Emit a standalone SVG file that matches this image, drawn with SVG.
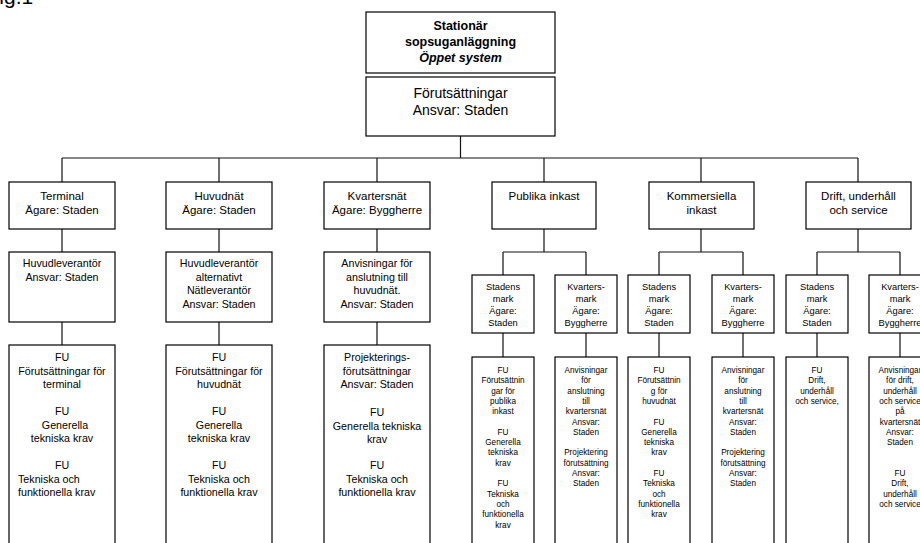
<svg xmlns="http://www.w3.org/2000/svg" width="920" height="543" viewBox="0 0 920 543">
<style>
.box{fill:#fff;stroke:#000;stroke-width:1.2}
.conn{fill:none;stroke:#111;stroke-width:1.2}
text{font-family:"Liberation Sans",Arial,sans-serif;fill:#000;text-anchor:middle}
.tb{font-size:12.5px;font-weight:bold}
.t14{font-size:14px}
.t11{font-size:11.5px}
.t10{font-size:10.7px}
.t9{font-size:9.3px}
.t8{font-size:8.2px}
.fig{font-size:21px;text-anchor:start}
</style>
<rect width="920" height="543" fill="#fff"/>
<text class="fig" x="-13.5" y="4">Fig.1</text>

<g id="connectors" class="conn">
<path d="M460.5 136V158M62 158H858M62 158V182M219 158V182M377 158V182M544 158V182M701 158V182M858 158V182"/>
<path d="M62 229V252M219 229V252M377 229V252M62 322V345M219 322V345M377 322V345"/>
<path d="M544 229V252M503 252H586M503 252V275M586 252V275"/>
<path d="M701 229V252M659 252H743M659 252V275M743 252V275"/>
<path d="M858 229V252M817 252H900M817 252V275M900 252V275"/>
<path d="M503 333V357M586 333V357M659 333V357M743 333V357M817 333V357M900 333V357"/>
</g>

<g id="n-root">
<rect class="box" x="366" y="12" width="189" height="61"/>
<text class="tb"><tspan x="460.5" y="30">Stationär</tspan><tspan x="460.5" y="46">sopsuganläggning</tspan><tspan x="460.5" y="62" font-style="italic">Öppet system</tspan></text>
</g>
<g id="n-forutsattningar">
<rect class="box" x="366" y="77" width="189" height="59"/>
<text class="t14"><tspan x="460.5" y="98">Förutsättningar</tspan><tspan x="460.5" y="115">Ansvar: Staden</tspan></text>
</g>

<g id="n-terminal">
<rect class="box" x="9" y="182" width="106" height="47"/>
<text class="t11"><tspan x="62" y="200">Terminal</tspan><tspan x="62" y="213.5">Ägare: Staden</tspan></text>
</g>
<g id="n-huvudnat">
<rect class="box" x="166" y="182" width="106" height="47"/>
<text class="t11"><tspan x="219" y="200">Huvudnät</tspan><tspan x="219" y="213.5">Ägare: Staden</tspan></text>
</g>
<g id="n-kvartersnat">
<rect class="box" x="324" y="182" width="106" height="47"/>
<text class="t11"><tspan x="377" y="200">Kvartersnät</tspan><tspan x="377" y="213.5">Ägare: Byggherre</tspan></text>
</g>
<g id="n-publika">
<rect class="box" x="492" y="182" width="104" height="47"/>
<text class="t11"><tspan x="544" y="200">Publika inkast</tspan></text>
</g>
<g id="n-kommersiella">
<rect class="box" x="649" y="182" width="105" height="47"/>
<text class="t11"><tspan x="701.5" y="200">Kommersiella</tspan><tspan x="701.5" y="214">inkast</tspan></text>
</g>
<g id="n-drift">
<rect class="box" x="806" y="182" width="105" height="47"/>
<text class="t11"><tspan x="858.5" y="200">Drift, underhåll</tspan><tspan x="858.5" y="214">och service</tspan></text>
</g>

<g id="n-terminal-leverantor">
<rect class="box" x="9" y="252" width="106" height="70"/>
<text class="t10"><tspan x="62" y="267">Huvudleverantör</tspan><tspan x="62" y="280.5">Ansvar: Staden</tspan></text>
</g>
<g id="n-huvudnat-leverantor">
<rect class="box" x="166" y="252" width="106" height="70"/>
<text class="t10"><tspan x="219" y="267">Huvudleverantör</tspan><tspan x="219" y="280.5">alternativt</tspan><tspan x="219" y="294">Nätleverantör</tspan><tspan x="219" y="307.5">Ansvar: Staden</tspan></text>
</g>
<g id="n-kvartersnat-anvisningar">
<rect class="box" x="324" y="252" width="106" height="70"/>
<text class="t10"><tspan x="377" y="267">Anvisningar för</tspan><tspan x="377" y="280.5">anslutning till</tspan><tspan x="377" y="294">huvudnät.</tspan><tspan x="377" y="307.5">Ansvar: Staden</tspan></text>
</g>

<g id="n-terminal-fu">
<rect class="box" x="9" y="345" width="106" height="220"/>
<text class="t10"><tspan x="62" y="361">FU</tspan><tspan x="62" y="374.5">Förutsättningar för</tspan><tspan x="62" y="388">terminal</tspan><tspan x="62" y="415">FU</tspan><tspan x="65" y="428.5">Generella</tspan><tspan x="62" y="442">tekniska krav</tspan><tspan x="62" y="469">FU</tspan><tspan x="18" y="482.5" text-anchor="start">Tekniska och</tspan><tspan x="18" y="496" text-anchor="start">funktionella krav</tspan></text>
</g>
<g id="n-huvudnat-fu">
<rect class="box" x="166" y="345" width="106" height="220"/>
<text class="t10"><tspan x="219" y="361">FU</tspan><tspan x="219" y="374.5">Förutsättningar för</tspan><tspan x="219" y="388">huvudnät</tspan><tspan x="219" y="415">FU</tspan><tspan x="219" y="428.5">Generella</tspan><tspan x="219" y="442">tekniska krav</tspan><tspan x="219" y="469">FU</tspan><tspan x="219" y="482.5">Tekniska och</tspan><tspan x="219" y="496">funktionella krav</tspan></text>
</g>
<g id="n-kvartersnat-fu">
<rect class="box" x="324" y="345" width="106" height="220"/>
<text class="t10"><tspan x="377" y="361">Projekterings-</tspan><tspan x="377" y="374.5">förutsättningar</tspan><tspan x="377" y="388">Ansvar: Staden</tspan><tspan x="377" y="416">FU</tspan><tspan x="377" y="429.5">Generella tekniska</tspan><tspan x="377" y="443">krav</tspan><tspan x="377" y="469">FU</tspan><tspan x="377" y="482.5">Tekniska och</tspan><tspan x="377" y="496">funktionella krav</tspan></text>
</g>

<g id="n-publika-stadens">
<rect class="box" x="472" y="275" width="62" height="58"/>
<text class="t9"><tspan x="503" y="289.5">Stadens</tspan><tspan x="503" y="301.5">mark</tspan><tspan x="503" y="313.5">Ägare:</tspan><tspan x="503" y="325.5">Staden</tspan></text>
</g>
<g id="n-publika-kvarters">
<rect class="box" x="555" y="275" width="62" height="58"/>
<text class="t9"><tspan x="586" y="289.5">Kvarters-</tspan><tspan x="586" y="301.5">mark</tspan><tspan x="586" y="313.5">Ägare:</tspan><tspan x="586" y="325.5">Byggherre</tspan></text>
</g>
<g id="n-kommersiella-stadens">
<rect class="box" x="628" y="275" width="62" height="58"/>
<text class="t9"><tspan x="659" y="289.5">Stadens</tspan><tspan x="659" y="301.5">mark</tspan><tspan x="659" y="313.5">Ägare:</tspan><tspan x="659" y="325.5">Staden</tspan></text>
</g>
<g id="n-kommersiella-kvarters">
<rect class="box" x="712" y="275" width="62" height="58"/>
<text class="t9"><tspan x="743" y="289.5">Kvarters-</tspan><tspan x="743" y="301.5">mark</tspan><tspan x="743" y="313.5">Ägare:</tspan><tspan x="743" y="325.5">Byggherre</tspan></text>
</g>
<g id="n-drift-stadens">
<rect class="box" x="786" y="275" width="62" height="58"/>
<text class="t9"><tspan x="817" y="289.5">Stadens</tspan><tspan x="817" y="301.5">mark</tspan><tspan x="817" y="313.5">Ägare:</tspan><tspan x="817" y="325.5">Staden</tspan></text>
</g>
<g id="n-drift-kvarters">
<rect class="box" x="869" y="275" width="62" height="58"/>
<text class="t9"><tspan x="900" y="289.5">Kvarters-</tspan><tspan x="900" y="301.5">mark</tspan><tspan x="900" y="313.5">Ägare:</tspan><tspan x="900" y="325.5">Byggherre</tspan></text>
</g>

<g id="n-publika-stadens-fu">
<rect class="box" x="472" y="357" width="62" height="210"/>
<text class="t8"><tspan x="503" y="373">FU</tspan><tspan x="503" y="383.3">Förutsättnin</tspan><tspan x="503" y="393.6">gar för</tspan><tspan x="503" y="403.9">publika</tspan><tspan x="503" y="414.2">inkast</tspan><tspan x="503" y="434.8">FU</tspan><tspan x="503" y="445.1">Generella</tspan><tspan x="503" y="455.4">tekniska</tspan><tspan x="503" y="465.7">krav</tspan><tspan x="503" y="486.3">FU</tspan><tspan x="503" y="496.6">Tekniska</tspan><tspan x="503" y="506.9">och</tspan><tspan x="503" y="517.2">funktionella</tspan><tspan x="503" y="527.5">krav</tspan></text>
</g>
<g id="n-publika-kvarters-anv">
<rect class="box" x="555" y="357" width="62" height="210"/>
<text class="t8"><tspan x="586" y="373">Anvisningar</tspan><tspan x="586" y="383.3">för</tspan><tspan x="586" y="393.6">anslutning</tspan><tspan x="586" y="403.9">till</tspan><tspan x="586" y="414.2">kvartersnät</tspan><tspan x="586" y="424.5">Ansvar:</tspan><tspan x="586" y="434.8">Staden</tspan><tspan x="586" y="455.4">Projektering</tspan><tspan x="586" y="465.7">förutsättning</tspan><tspan x="586" y="476">Ansvar:</tspan><tspan x="586" y="486.3">Staden</tspan></text>
</g>
<g id="n-kommersiella-stadens-fu">
<rect class="box" x="628" y="357" width="62" height="210"/>
<text class="t8"><tspan x="659" y="373">FU</tspan><tspan x="659" y="383.3">Förutsättnin</tspan><tspan x="659" y="393.6">g för</tspan><tspan x="659" y="403.9">huvudnät</tspan><tspan x="659" y="424.5">FU</tspan><tspan x="659" y="434.8">Generella</tspan><tspan x="659" y="445.1">tekniska</tspan><tspan x="659" y="455.4">krav</tspan><tspan x="659" y="476">FU</tspan><tspan x="659" y="486.3">Tekniska</tspan><tspan x="659" y="496.6">och</tspan><tspan x="659" y="506.9">funktionella</tspan><tspan x="659" y="517.2">krav</tspan></text>
</g>
<g id="n-kommersiella-kvarters-anv">
<rect class="box" x="712" y="357" width="62" height="210"/>
<text class="t8"><tspan x="743" y="373">Anvisningar</tspan><tspan x="743" y="383.3">för</tspan><tspan x="743" y="393.6">anslutning</tspan><tspan x="743" y="403.9">till</tspan><tspan x="743" y="414.2">kvartersnät</tspan><tspan x="743" y="424.5">Ansvar:</tspan><tspan x="743" y="434.8">Staden</tspan><tspan x="743" y="455.4">Projektering</tspan><tspan x="743" y="465.7">förutsättning</tspan><tspan x="743" y="476">Ansvar:</tspan><tspan x="743" y="486.3">Staden</tspan></text>
</g>
<g id="n-drift-stadens-fu">
<rect class="box" x="786" y="357" width="62" height="210"/>
<text class="t8"><tspan x="817" y="373">FU</tspan><tspan x="817" y="383.3">Drift,</tspan><tspan x="817" y="393.6">underhåll</tspan><tspan x="817" y="403.9">och service,</tspan></text>
</g>
<g id="n-drift-kvarters-anv">
<rect class="box" x="869" y="357" width="62" height="210"/>
<text class="t8"><tspan x="900" y="373">Anvisningar</tspan><tspan x="900" y="383.3">för drift,</tspan><tspan x="900" y="393.6">underhåll</tspan><tspan x="900" y="403.9">och service</tspan><tspan x="900" y="414.2">på</tspan><tspan x="900" y="424.5">kvartersnät</tspan><tspan x="900" y="434.8">Ansvar:</tspan><tspan x="900" y="445.1">Staden</tspan><tspan x="900" y="476">FU</tspan><tspan x="900" y="486.3">Drift,</tspan><tspan x="900" y="496.6">underhåll</tspan><tspan x="900" y="506.9">och service</tspan></text>
</g>
</svg>
